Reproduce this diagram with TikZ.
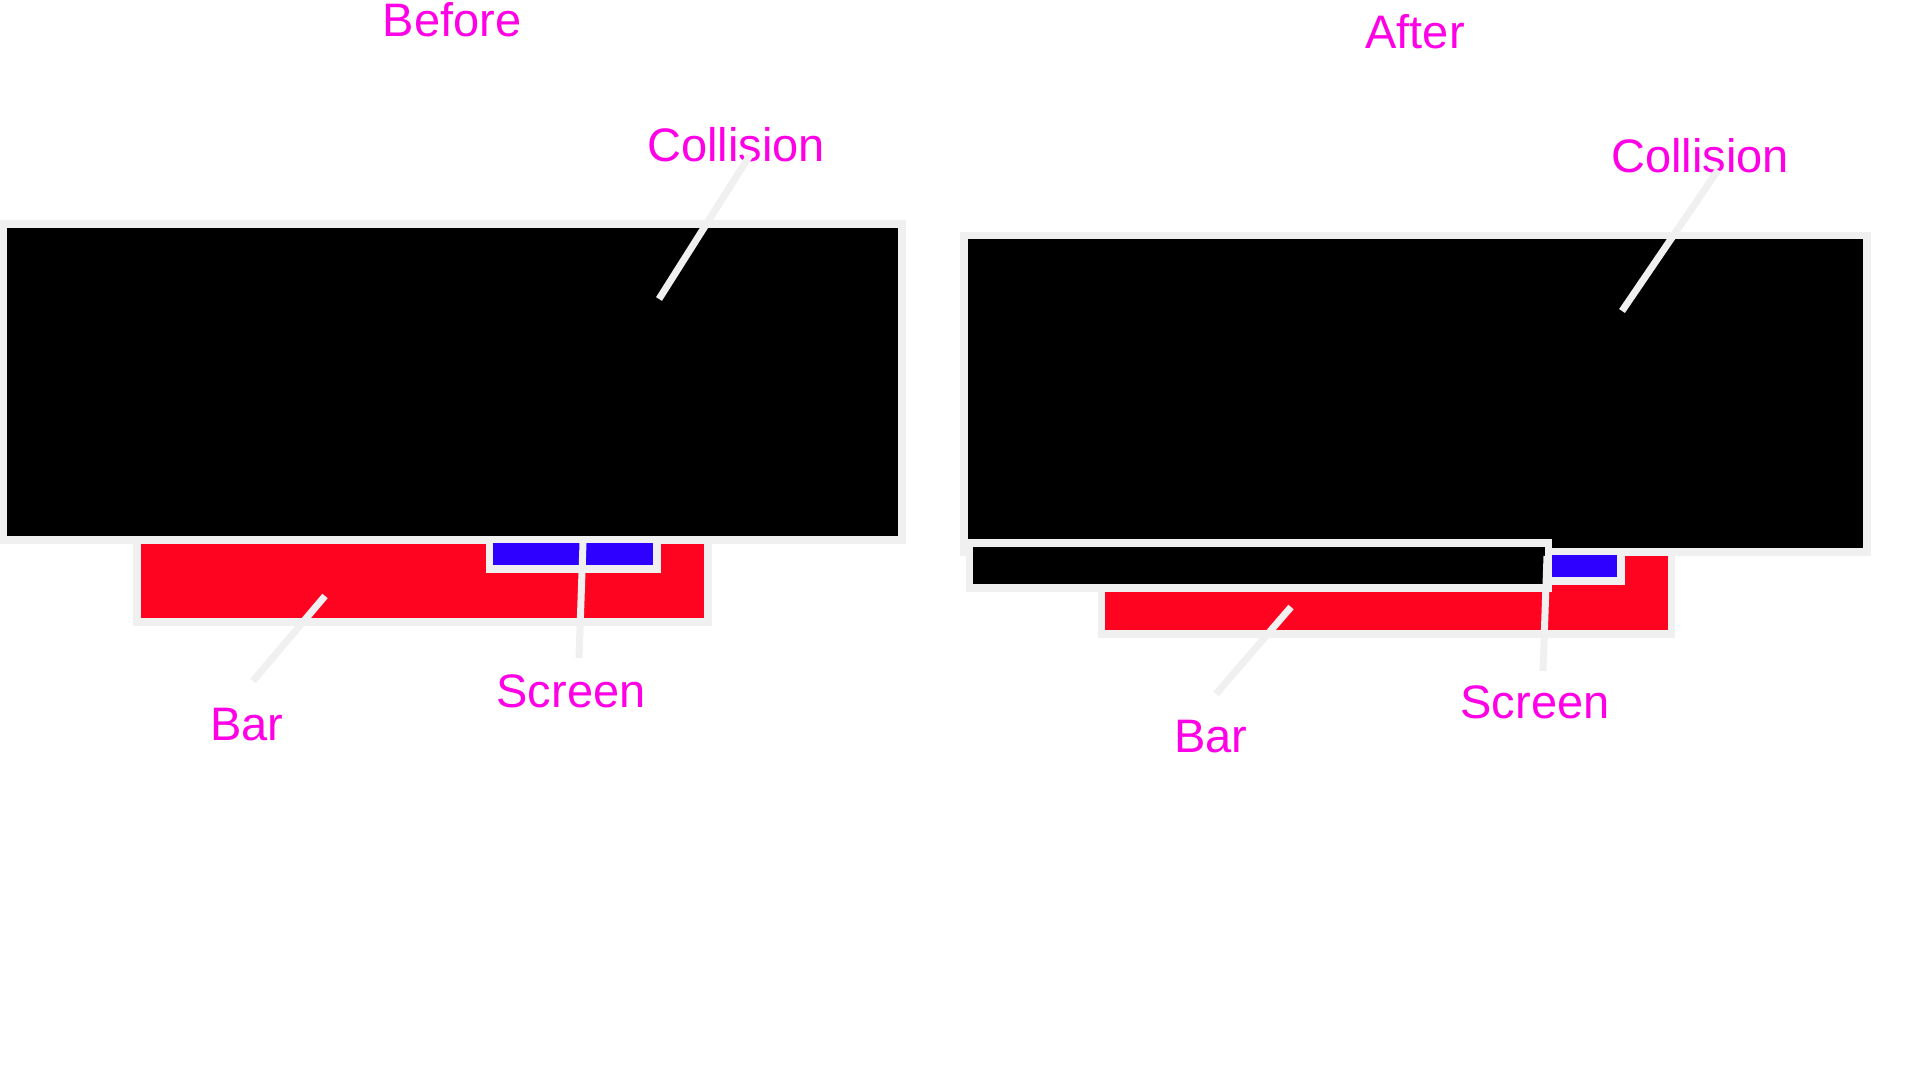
\documentclass[tikz,border=0pt]{standalone}
\usepackage{fontspec}
\setmainfont{Liberation Sans}
\definecolor{lblmag}{HTML}{FF00E6}
\definecolor{edgegray}{HTML}{F0F0F0}
\definecolor{barred}{HTML}{FF0420}
\definecolor{scrblue}{HTML}{2D00FF}
\tikzset{
  lbl/.style={text=lblmag, font=\fontsize{47}{56}\selectfont, anchor=base, inner sep=0pt},
  blackbox/.style={fill=black, draw=edgegray, line width=7.5pt},
  redbox/.style={fill=barred, draw=edgegray, line width=7.5pt},
  bluebox/.style={fill=scrblue, draw=edgegray, line width=7.5pt},
  leader/.style={draw=edgegray, line width=7pt}
}
\begin{document}
\begin{tikzpicture}[x=1pt,y=-1pt]
\useasboundingbox[fill=white] (0,0) rectangle (1920,1080);
% ---------- Before ----------
\node[lbl] (tBefore) at (452,36) {Before};
\draw[redbox] (137,540) rectangle (708,622);
\draw[blackbox] (3.5,224) rectangle (902,540);
\draw[bluebox] (489.5,539.5) rectangle (657,569);
\node[lbl] (tColB) at (736,161) {Collision};
\node[lbl] (tScrB) at (571,707) {Screen};
\node[lbl] (tBarB) at (247,740) {Bar};
\coordinate (cB1) at (750,155);
\coordinate (cB2) at (659,299);
\coordinate (sB1) at (583,543);
\coordinate (sB2) at (579,658);
\coordinate (bB1) at (325,596);
\coordinate (bB2) at (253,681);
\draw[leader] (cB1) -- (cB2);
\draw[leader] (sB1) -- (sB2);
\draw[leader] (bB1) -- (bB2);
% ---------- After ----------
\node[lbl] (tAfter) at (1415,48) {After};
\draw[redbox] (1101.5,552) rectangle (1671.5,634);
\draw[blackbox] (964,235.5) rectangle (1867,552);
\draw[bluebox] (1453.5,551.5) rectangle (1621,581);
\draw[blackbox] (969.5,543) rectangle (1548.5,588);
\node[lbl] (tColA) at (1700,172) {Collision};
\node[lbl] (tScrA) at (1535,718) {Screen};
\node[lbl] (tBarA) at (1211,752) {Bar};
\coordinate (cA1) at (1718,170);
\coordinate (cA2) at (1622,311);
\coordinate (sA1) at (1547,556);
\coordinate (sA2) at (1543,671);
\coordinate (bA1) at (1291,607);
\coordinate (bA2) at (1216,694);
\draw[leader] (cA1) -- (cA2);
\draw[leader] (sA1) -- (sA2);
\draw[leader] (bA1) -- (bA2);
\end{tikzpicture}
\end{document}
